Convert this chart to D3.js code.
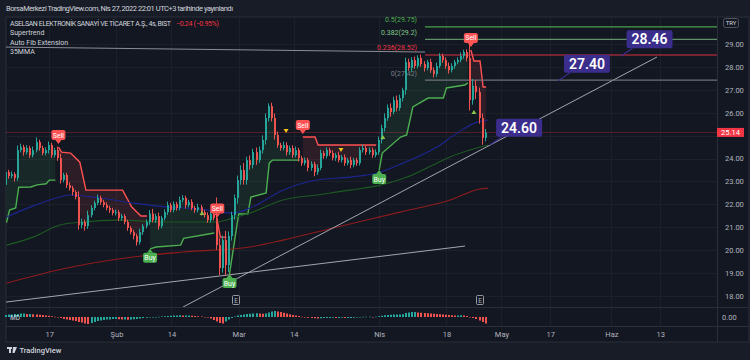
<!DOCTYPE html>
<html>
<head>
<meta charset="utf-8">
<script src="https://cdn.jsdelivr.net/npm/d3@7"></script>
<style>
html, body { margin: 0; padding: 0; background: #181c27; }
svg { display: block; font-family: Roboto, "Open Sans", sans-serif; }
</style>
</head>
<body>
<div id="graphicContainer"></div>
<script>

// ---- data (4h bars, bar index 0 = first bar on the left) ----

var closes = [
	23.41, 23.24, 23.32, 23.15, 24.37, 24.50, 24.28, 24.46, 24.15, 24.37,
	24.72, 24.46, 24.24, 24.37, 24.59, 24.15, 24.37, 24.02, 23.06, 23.28,
	22.84, 22.71, 22.54, 22.32, 21.10, 21.23, 21.05, 21.53, 21.84, 22.06,
	22.28, 22.10, 21.97, 21.84, 21.75, 21.62, 21.66, 21.40, 21.49, 21.23,
	20.97, 20.79, 20.62, 20.35, 20.79, 21.05, 21.23, 21.60, 21.31, 21.49,
	21.05, 21.40, 21.66, 21.97, 21.75, 22.01, 21.84, 22.19, 22.28, 21.97,
	22.10, 21.84, 21.75, 21.88, 21.66, 21.53, 21.31, 21.58, 21.40, 20.22,
	19.22, 20.44, 19.35, 20.62, 21.53, 22.28, 23.06, 23.50, 23.06, 23.93,
	23.72, 24.28, 23.93, 24.37, 24.81, 25.77, 26.29, 25.77, 25.03, 24.59,
	24.46, 24.59, 24.28, 24.46, 24.15, 24.37, 24.02, 23.80, 23.93, 23.59,
	23.76, 23.41, 23.59, 24.24, 24.11, 24.37, 24.24, 24.02, 24.15, 23.93,
	24.06, 23.80, 23.93, 23.72, 23.93, 23.80, 24.37, 24.46, 24.28, 24.37,
	24.15, 24.28, 24.81, 25.33, 25.77, 26.21, 26.03, 26.55, 26.21, 26.64,
	26.99, 28.21, 27.95, 28.30, 28.04, 28.39, 28.13, 27.95, 28.21, 27.86,
	27.69, 28.04, 28.48, 28.30, 28.04, 27.86, 28.04, 28.21, 28.30, 28.48,
	28.65, 28.39, 26.55, 27.17, 26.90, 25.77, 24.90, 25.14
]
var firstOpen = 22.85

var upperWick = [
	.15,.1,.12,.08,.2,.15,.1,.12,.1,.15,
	.2,.1,.1,.12,.15,.1,.1,.15,.2,.1,
	.1,.12,.1,.08,.25,.15,.1,.2,.12,.1,
	.15,.1,.1,.12,.1,.1,.12,.1,.1,.08,
	.1,.08,.1,.1,.15,.1,.12,.15,.2,.1,
	.15,.1,.12,.15,.1,.12,.1,.15,.12,.1,
	.1,.12,.1,.15,.1,.1,.12,.1,.12,.9,
	.3,.2,.4,.2,.15,.15,.2,.2,.3,.15,
	.2,.15,.2,.15,.2,.2,.12,.15,.2,.15,
	.1,.15,.12,.1,.12,.15,.1,.1,.12,.1,
	.12,.1,.15,.15,.1,.12,.1,.12,.1,.15,
	.1,.12,.1,.15,.1,.1,.12,.15,.1,.12,
	.1,.12,.15,.15,.2,.15,.2,.15,.2,.15,
	.1,.2,.15,.12,.15,.12,.15,.12,.1,.15,
	.12,.15,.12,.1,.12,.15,.12,.1,.12,.15,
	.1,.12,.8,.3,.25,.2,.2,.15
]
var lowerWick = [
	.1,.12,.1,.15,.12,.1,.15,.1,.12,.1,
	.1,.12,.1,.1,.15,.12,.1,.12,.15,.1,
	.12,.1,.15,.1,.2,.15,.2,.12,.1,.1,
	.1,.12,.1,.1,.12,.1,.1,.12,.1,.1,
	.12,.1,.15,.15,.1,.12,.1,.12,.1,.12,
	.15,.1,.1,.12,.1,.1,.12,.1,.1,.15,
	.1,.1,.12,.1,.15,.1,.12,.1,.1,.2,
	.3,.2,.45,.3,.2,.2,.25,.2,.2,.2,
	.2,.15,.2,.12,.15,.2,.15,.15,.2,.12,
	.12,.1,.15,.12,.12,.1,.15,.12,.1,.15,
	.12,.18,.12,.1,.12,.1,.12,.1,.12,.1,
	.1,.12,.1,.15,.1,.12,.1,.1,.12,.1,
	.12,.1,.12,.15,.15,.12,.2,.1,.15,.12,
	.15,.2,.12,.15,.12,.1,.12,.15,.1,.12,
	.15,.12,.1,.12,.12,.15,.1,.12,.1,.1,
	.12,.15,.45,.2,.3,.25,.3,.15
]

// MACD-style histogram, one value per bar
var hist = [
	0.04,0.05,0.05,0.06,0.06,0.07,0.07,0.06,0.06,0.055,
	0.05,0.045,0.04,0.03,0.025,0.015,0.005,-0.01,-0.02,-0.04,
	-0.05,-0.06,-0.07,-0.08,-0.1,-0.11,-0.13,-0.14,-0.12,-0.1,
	-0.08,-0.07,-0.06,-0.05,-0.05,-0.04,-0.04,-0.045,-0.05,-0.05,
	-0.055,-0.05,-0.045,-0.04,-0.03,-0.02,-0.015,-0.01,-0.005,0.0,
	0.005,0.01,0.015,0.02,0.025,0.03,0.03,0.035,0.03,0.03,
	0.03,0.025,0.02,0.015,0.01,0.0,-0.01,-0.03,-0.06,-0.09,
	-0.12,-0.13,-0.09,-0.05,-0.02,0.01,0.03,0.04,0.05,0.06,
	0.065,0.07,0.075,0.07,0.065,0.07,0.09,0.11,0.12,0.11,
	0.1,0.085,0.07,0.055,0.04,0.03,0.02,0.005,-0.01,-0.015,
	-0.02,-0.025,-0.03,-0.025,-0.02,-0.02,-0.02,-0.015,-0.02,-0.02,
	-0.015,-0.02,-0.02,-0.02,-0.015,-0.01,0.0,0.005,0.005,0.005,
	0.0,0.005,0.015,0.025,0.035,0.04,0.045,0.05,0.05,0.05,
	0.055,0.08,0.09,0.1,0.1,0.09,0.085,0.08,0.075,0.07,
	0.065,0.06,0.055,0.05,0.045,0.04,0.035,0.03,0.03,0.035,
	0.03,0.02,0.0,-0.02,-0.04,-0.07,-0.1,-0.13
]

// supertrend segments [bar, price]
var superUp = [
	[[0,21.2],[1,21.75],[3,21.84],[4,22.75],[8,22.76],[10,22.85],[13,22.9],[14,23.06],[16,23.06]],
	[[47,20.06],[49,20.14],[57,20.22],[58,20.52],[68,20.75]],
	[[73,18.96],[76,21.58],[79,21.58],[80,22.32],[85,22.5],[86,23.8],[87,23.93],[96,23.93]],
	[[122,23.5],[123,24.24],[129,24.94],[131,25.03],[133,26.25],[138,26.64],[143,26.64],[144,27.08],[150,27.21],[151,27.3]]
]
var superDown = [
	[[17,24.5],[18,24.28],[21,24.24],[24,23.84],[26,22.62],[38,22.62],[41,21.88],[44,21.49],[46,21.49]],
	[[69,21.3],[70,20.57],[72,20.57]],
	[[97,24.94],[101,24.94],[102,24.59],[121,24.59]],
	[[152,28.74],[153,28.26],[155,28.26],[156,27.12],[157,27.12]]
]

// moving averages [bar, price]
var maBlue = [[0,21.45],[7.7,21.88],[17.5,22.32],[20.8,22.41],[30.6,22.28],[41.4,22.06],[52.5,21.88],[63.3,21.8],[74.1,21.62],[79.7,21.84],[90.5,22.62],[101.6,23.06],[112.4,23.19],[121.3,23.37],[129.8,23.8],[140.9,24.5],[147.5,25.11],[154,25.59],[157.6,25.68]]
var maGreen = [[0,20.22],[8.7,20.57],[17.5,21.1],[25,21.23],[36.2,21.31],[52.5,21.23],[68.9,21.23],[74.1,21.4],[79.7,21.62],[90.5,22.19],[101.6,22.41],[112.4,22.62],[122.3,22.84],[131.1,23.19],[139.6,23.72],[145.2,24.07],[151.7,24.37],[157.6,24.59]]
var maRed = [[0,18.56],[19.8,19.22],[41.4,19.7],[57.8,19.92],[79.7,20.14],[90.5,20.44],[106.9,20.97],[128.8,21.66],[145.2,22.19],[155,22.67],[157.6,22.71]]

// drawn trend lines [[bar, price], [bar, price]]
var trendLines = [
	[[-2, 28.87], [137, 28.65]],
	[[57.8, 17.52], [212.9, 28.43]],
	[[-0.5, 17.73], [150.1, 20.18]]
]

var fibStart = 137
var fibLevels = [
	{ ratio: "0.5", price: 29.75, color: "#4caf50" },
	{ ratio: "0.382", price: 29.2, color: "#81c784" },
	{ ratio: "0.236", price: 28.52, color: "#f23645" },
	{ ratio: "0", price: 27.42, color: "#787b86" }
]

var callouts = [
	{ bar: 201, price: 28.46 },
	{ bar: 180.5, price: 27.40 },
	{ bar: 158.3, price: 24.60 }
]

var triangles = [
	{ bar: 91.5, price: 25.2, dir: "down" },
	{ bar: 109.5, price: 24.37, dir: "down" },
	{ bar: 64, price: 21.62, dir: "up" },
	{ bar: 123.2, price: 24.94, dir: "up" },
	{ bar: 153, price: 26.03, dir: "up" }
]

var earnings = [75, 155]

var lastPrice = 25.14
var priceTicks = [18, 19, 20, 21, 22, 23, 24, 25, 26, 27, 28, 29]
var timeTickBars = [14, 36, 54, 76, 94, 122, 144, 162, 178, 198, 214]
var timeTickLabels = ["17", "Şub", "14", "Mar", "14", "Nis", "18", "May", "17", "Haz", "13"]

// ---- drawing ----

var width = 750, height = 360
var plot = { left: 6, right: 717, top: 17, bottom: 307 }
var lower = { top: 308, bottom: 326 }

var svg = d3.select("#graphicContainer").append("svg")
	.attr("width", width)
	.attr("height", height)

svg.append("rect").attr("width", width).attr("height", height).attr("fill", "#181c27")
svg.append("rect")
	.attr("x", plot.left).attr("y", plot.top)
	.attr("width", 749 - plot.left).attr("height", 342 - plot.top)
	.attr("fill", "#131722").attr("stroke", "#2a2e39")

var x = d3.scaleLinear().domain([0, 157]).range([6.5, 6.5 + 157 * 3.055])
var y = d3.scaleLinear().domain([18, 29]).range([296, 44])
var yh = d3.scaleLinear().domain([-0.18, 0.18]).range([lower.bottom, lower.top])

// grid
var grid = svg.append("g")
grid.selectAll(".hg").data(priceTicks).enter().append("line")
	.attr("x1", plot.left).attr("x2", plot.right)
	.attr("y1", d => Math.round(y(d)) + 0.5).attr("y2", d => Math.round(y(d)) + 0.5)
	.attr("stroke", "#1c202b")
grid.selectAll(".vg").data(timeTickBars).enter().append("line")
	.attr("x1", d => Math.round(x(d)) + 0.5).attr("x2", d => Math.round(x(d)) + 0.5)
	.attr("y1", plot.top).attr("y2", lower.bottom)
	.attr("stroke", "#1c202b")

// pane borders
svg.append("line").attr("x1", plot.right + 0.5).attr("x2", plot.right + 0.5).attr("y1", plot.top).attr("y2", 342).attr("stroke", "#2a2e39")
svg.append("line").attr("x1", plot.left).attr("x2", 749).attr("y1", plot.bottom + 0.5).attr("y2", plot.bottom + 0.5).attr("stroke", "#2a2e39")
svg.append("line").attr("x1", plot.left).attr("x2", 749).attr("y1", lower.bottom + 0.5).attr("y2", lower.bottom + 0.5).attr("stroke", "#2a2e39")

svg.append("clipPath").attr("id", "clipMain").append("rect")
	.attr("x", plot.left).attr("y", plot.top).attr("width", plot.right - plot.left).attr("height", plot.bottom - plot.top)

var main = svg.append("g").attr("clip-path", "url(#clipMain)")

var bars = closes.map(function(c, i) {
	var o = i === 0 ? firstOpen : closes[i - 1]
	return { i: i, o: o, c: c, h: Math.max(o, c) + upperWick[i], l: Math.min(o, c) - lowerWick[i] }
})

// last price line
main.append("line")
	.attr("x1", plot.left).attr("x2", plot.right)
	.attr("y1", y(lastPrice)).attr("y2", y(lastPrice))
	.attr("stroke", "#f23645").attr("stroke-opacity", 0.3)

// supertrend fills + lines
var line = d3.line().x(d => x(d[0])).y(d => y(d[1]))

function drawSuper(segments, fill, stroke) {
	segments.forEach(function(seg) {
		var mids = bars.slice(seg[0][0], seg[seg.length - 1][0] + 1)
			.map(b => [b.i, (b.o + b.c) / 2]).reverse()
		main.append("path")
			.attr("d", line(seg.concat(mids)) + "Z")
			.attr("fill", fill)
		main.append("path")
			.attr("d", line(seg))
			.attr("fill", "none")
			.attr("stroke", stroke)
			.attr("stroke-width", 1.4)
	})
}
drawSuper(superUp, "rgba(76,175,80,0.11)", "#4caf50")
drawSuper(superDown, "rgba(255,82,82,0.11)", "#ff5252")

// moving averages
var smooth = d3.line().x(d => x(d[0])).y(d => y(d[1])).curve(d3.curveMonotoneX)
main.append("path").attr("d", smooth(maRed)).attr("fill", "none").attr("stroke", "#8e1c1c").attr("stroke-width", 1.1)
main.append("path").attr("d", smooth(maGreen)).attr("fill", "none").attr("stroke", "#1d5a22").attr("stroke-width", 1.1)
main.append("path").attr("d", smooth(maBlue)).attr("fill", "none").attr("stroke", "#1c2690").attr("stroke-width", 1.1)

// trend lines
main.selectAll(".trend").data(trendLines).enter().append("path")
	.attr("d", d => line(d))
	.attr("stroke", (d, k) => k === 0 ? "#8a8d96" : "#a3a6af")
	.attr("stroke-width", 1)
	.attr("fill", "none")

// fib levels
fibLevels.forEach(function(f) {
	main.append("line")
		.attr("x1", x(fibStart)).attr("x2", plot.right)
		.attr("y1", y(f.price)).attr("y2", y(f.price))
		.attr("stroke", f.color).attr("stroke-width", 1.2)
		.attr("stroke-opacity", f.ratio === "0.382" ? 0.7 : 0.9)
})

// candles
var candles = main.append("g")
candles.selectAll(".wick").data(bars).enter().append("rect")
	.attr("x", d => Math.floor(x(d.i)) - 1)
	.attr("width", 1)
	.attr("y", d => y(d.h))
	.attr("height", d => y(d.l) - y(d.h))
	.attr("fill", d => d.c >= d.o ? "#26a69a" : "#ef5350")
candles.selectAll(".body").data(bars).enter().append("rect")
	.attr("x", d => Math.floor(x(d.i)) - 1)
	.attr("width", 2)
	.attr("y", d => y(Math.max(d.o, d.c)))
	.attr("height", d => Math.max(1, Math.abs(y(d.o) - y(d.c))))
	.attr("fill", d => d.c >= d.o ? "#26a69a" : "#ef5350")

// fib labels
fibLevels.forEach(function(f) {
	svg.append("text")
		.attr("x", x(fibStart) - 8).attr("y", y(f.price) - 4.5)
		.attr("text-anchor", "end")
		.attr("font-size", 7)
		.attr("fill", f.color)
		.text(f.ratio + "(" + f.price + ")")
})

// small triangle markers
triangles.forEach(function(t) {
	var cx = x(t.bar), cy = y(t.price)
	var pts = t.dir === "down"
		? [[cx - 2.5, cy - 2], [cx + 2.5, cy - 2], [cx, cy + 2]]
		: [[cx - 2.5, cy + 2], [cx + 2.5, cy + 2], [cx, cy - 2]]
	main.append("path").attr("d", "M" + pts.join("L") + "Z")
		.attr("fill", t.dir === "down" ? "#f5c518" : "#8bc34a")
})

// buy / sell signals
function signal(bar, price, type) {
	var cx = x(bar), cy = y(price)
	var g = svg.append("g")
	var col = type === "Sell" ? "#ff5252" : "#4caf50"
	if (type === "Sell") {
		g.append("path").attr("d", "M" + (cx - 3) + "," + (cy - 7) + "L" + (cx + 3) + "," + (cy - 7) + "L" + cx + "," + (cy - 3) + "Z").attr("fill", col)
		g.append("rect").attr("x", cx - 7).attr("y", cy - 17).attr("width", 14).attr("height", 10).attr("rx", 2).attr("fill", col)
		g.append("text").attr("x", cx).attr("y", cy - 9.5).attr("text-anchor", "middle").attr("font-size", 7).attr("fill", "#fff").text(type)
	} else {
		g.append("path").attr("d", "M" + (cx - 3) + "," + (cy + 4) + "L" + (cx + 3) + "," + (cy + 4) + "L" + cx + "," + cy + "Z").attr("fill", col)
		g.append("rect").attr("x", cx - 7).attr("y", cy + 4).attr("width", 14).attr("height", 10).attr("rx", 2).attr("fill", col)
		g.append("text").attr("x", cx).attr("y", cy + 11.5).attr("text-anchor", "middle").attr("font-size", 7).attr("fill", "#fff").text(type)
	}
}
superDown.forEach(seg => signal(seg[0][0], seg[0][1], "Sell"))
superUp.slice(1).forEach(seg => signal(seg[0][0], seg[0][1], "Buy"))

// callouts
callouts.forEach(function(c) {
	var tx = x(c.bar), ty = y(c.price)
	var bx = tx + 6, by = ty - 26
	svg.append("line").attr("x1", tx).attr("y1", ty).attr("x2", bx + 6).attr("y2", by + 18)
		.attr("stroke", "#3b2d8c").attr("stroke-width", 1.2)
	svg.append("rect").attr("x", bx).attr("y", by).attr("width", 46).attr("height", 18).attr("rx", 2)
		.attr("fill", "#3b2d8c")
	svg.append("text").attr("x", bx + 23).attr("y", by + 14)
		.attr("text-anchor", "middle").attr("font-size", 14).attr("font-weight", 600)
		.attr("fill", "#ffffff").text(c.price.toFixed(2))
})

// earnings markers
earnings.forEach(function(b) {
	var cx = Math.round(x(b))
	svg.append("rect").attr("x", cx - 3.5).attr("y", 295.5).attr("width", 7).attr("height", 9)
		.attr("fill", "#131722").attr("stroke", "#9598a1").attr("rx", 1)
	svg.append("text").attr("x", cx).attr("y", 302.5).attr("text-anchor", "middle")
		.attr("font-size", 6.5).attr("fill", "#b2b5be").text("E")
})

// histogram pane
svg.selectAll(".hist").data(hist).enter().append("rect")
	.attr("x", (d, i) => Math.floor(x(i)) - 1)
	.attr("width", 2)
	.attr("y", d => Math.min(yh(0), yh(d)))
	.attr("height", d => Math.max(0.5, Math.abs(yh(d) - yh(0))))
	.attr("fill", (d, i) => (i === 0 || d >= hist[i - 1]) ? "#26a69a" : "#ef5350")
svg.append("text").attr("x", 10).attr("y", 319.5).attr("font-size", 6.5).attr("fill", "#d1d4dc").text("MD")

// price axis (the tick hidden under the last-price tag is dropped, as on the chart)
var yAxis = svg.append("g")
	.attr("transform", "translate(" + (plot.right + 5) + ",0)")
	.call(d3.axisRight(y)
		.tickValues(priceTicks.filter(d => Math.abs(y(d) - y(lastPrice)) > 9))
		.tickFormat(d3.format(".2f")).tickSize(0))
yAxis.select(".domain").remove()
yAxis.selectAll("text").attr("font-size", 7.5).attr("fill", "#b2b5be").attr("dx", 0).attr("font-family", "Roboto, sans-serif")

svg.append("text").attr("x", plot.right + 5).attr("y", yh(0) + 2.5).attr("font-size", 7.5).attr("fill", "#b2b5be").text("0.00")

// last price tag
svg.append("rect").attr("x", plot.right).attr("y", y(lastPrice) - 4.5).attr("width", 27).attr("height", 9).attr("fill", "#f23645")
svg.append("text").attr("x", plot.right + 13.5).attr("y", y(lastPrice) + 2.5).attr("text-anchor", "middle")
	.attr("font-size", 7.5).attr("fill", "#fff").text(lastPrice.toFixed(2))

// currency box
svg.append("rect").attr("x", 723.5).attr("y", 18.5).attr("width", 15).attr("height", 9).attr("rx", 2)
	.attr("fill", "none").attr("stroke", "#50535e")
svg.append("text").attr("x", 731).attr("y", 25.3).attr("text-anchor", "middle").attr("font-size", 6).attr("fill", "#d1d4dc").text("TRY")

// time axis
var xAxis = svg.append("g")
	.attr("transform", "translate(0," + (lower.bottom + 3) + ")")
	.call(d3.axisBottom(x).tickValues(timeTickBars).tickFormat((d, k) => timeTickLabels[k]).tickSize(0))
xAxis.select(".domain").remove()
xAxis.selectAll("text").attr("font-size", 7.5).attr("fill", "#b2b5be").attr("font-family", "Roboto, sans-serif")

// header + legend
svg.append("text").attr("x", 6).attr("y", 11).attr("font-size", 7.5).attr("fill", "#d1d4dc")
	.attr("textLength", 227).text("BorsaMerkezi TradingView.com, Nis 27, 2022 22:01 UTC+3 tarihinde yayınlandı")

var legend = svg.append("g").attr("font-size", 7).attr("fill", "#d1d4dc")
legend.append("text").attr("x", 10).attr("y", 25.5).attr("textLength", 161).text("ASELSAN ELEKTRONİK SANAYİ VE TİCARET A.Ş., 4s, BIST")
legend.append("text").attr("x", 176).attr("y", 25.5).attr("fill", "#f23645").attr("textLength", 43).text("−0.24 (−0.95%)")
legend.append("text").attr("x", 10).attr("y", 35).text("Supertrend")
legend.append("text").attr("x", 10).attr("y", 44.5).text("Auto Fib Extension")
legend.append("text").attr("x", 10).attr("y", 54).text("35MMA")

// footer logo
var logo = svg.append("g").attr("fill", "#d1d4dc")
logo.append("rect").attr("x", 7).attr("y", 347).attr("width", 5).attr("height", 2)
logo.append("rect").attr("x", 9).attr("y", 347).attr("width", 2).attr("height", 6)
logo.append("path").attr("d", "M13,347L17,347L14.5,353L12.5,353Z")
svg.append("text").attr("x", 19.5).attr("y", 353).attr("font-size", 7.5).attr("font-weight", 500).attr("fill", "#d1d4dc").text("TradingView")

</script>
</body>
</html>
